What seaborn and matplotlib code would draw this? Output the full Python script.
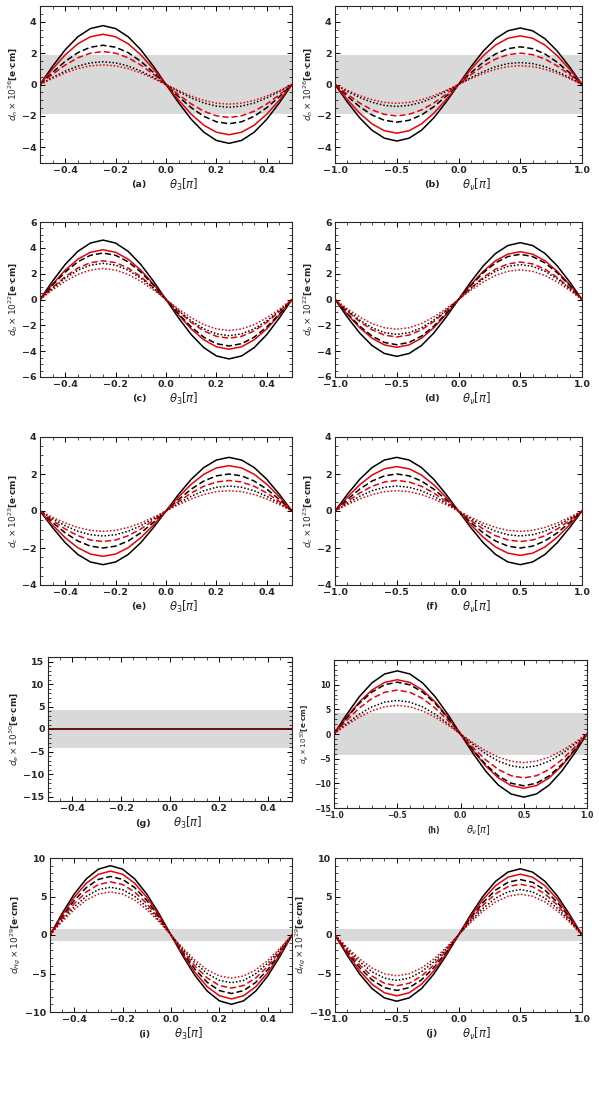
import numpy as np
import pandas as pd
import seaborn as sns
import matplotlib.pyplot as plt
from matplotlib.ticker import AutoMinorLocator

sns.set_style("ticks")
plt.rcParams['font.family'] = ['DejaVu Sans']
plt.rcParams['mathtext.fontset'] = 'dejavusans'
plt.rcParams['xtick.minor.visible'] = True
plt.rcParams['ytick.minor.visible'] = True

# one period profile (21 samples, left end to right end)
shape = [0.0, -0.31, -0.59, -0.81, -0.95, -1.0, -0.95, -0.81, -0.59, -0.31, 0.0,
         0.31, 0.59, 0.81, 0.95, 1.0, 0.95, 0.81, 0.59, 0.31, 0.0]
x_theta3 = [-0.5 + 0.05 * i for i in range(21)]
x_thetanu = [-1.0 + 0.1 * i for i in range(21)]

# peak heights: black solid, red solid, black dashed, red dashed, black dotted, red dotted
amp_a = [-3.75, -3.2, -2.5, -2.1, -1.45, -1.25]
amp_b = [3.6, 3.1, 2.4, 2.0, 1.4, 1.2]
amp_c = [-4.6, -3.85, -3.6, -3.0, -2.8, -2.4]
amp_d = [4.4, 3.7, 3.5, 2.9, 2.7, 2.3]
amp_e = [2.9, 2.45, 2.0, 1.65, 1.35, 1.1]
amp_f = [-2.9, -2.4, -2.0, -1.65, -1.35, -1.1]
amp_g = [0, 0, 0, 0, 0, 0]
amp_h = [-12.8, -11.0, -10.5, -8.9, -6.8, -5.8]
amp_i = [-9.0, -8.3, -7.6, -6.9, -6.2, -5.6]
amp_j = [8.6, 7.9, 7.2, 6.6, 5.9, 5.3]

curve_names = ['k-', 'r-', 'k--', 'r--', 'k:', 'r:']
colors = {'k-': 'black', 'r-': '#e8000b', 'k--': 'black', 'r--': '#e8000b', 'k:': 'black', 'r:': '#e8000b'}
dashes = {'k-': '', 'r-': '', 'k--': (4, 2), 'r--': (4, 2), 'k:': (1, 1.3), 'r:': (1, 1.3)}

W, H = 599, 1108
panels = [
    # tag, x, amps, ylabel, ylim, yticks, band, xlabel, box(px: x0,y0,x1,y1)
    ('(a)', x_theta3, amp_a, r'$d_n\times10^{26}$[e$\cdot$cm]', (-5, 5), [-4, -2, 0, 2, 4], 1.85, r'$\theta_3[\pi]$', (40, 6, 292, 163)),
    ('(b)', x_thetanu, amp_b, r'$d_n\times10^{26}$[e$\cdot$cm]', (-5, 5), [-4, -2, 0, 2, 4], 1.85, r'$\theta_\nu[\pi]$', (335, 6, 582, 163)),
    ('(c)', x_theta3, amp_c, r'$d_b\times10^{22}$[e$\cdot$cm]', (-6, 6), [-6, -4, -2, 0, 2, 4, 6], None, r'$\theta_3[\pi]$', (40, 222, 292, 377)),
    ('(d)', x_thetanu, amp_d, r'$d_b\times10^{22}$[e$\cdot$cm]', (-6, 6), [-6, -4, -2, 0, 2, 4, 6], None, r'$\theta_\nu[\pi]$', (335, 222, 582, 377)),
    ('(e)', x_theta3, amp_e, r'$d_c\times10^{23}$[e$\cdot$cm]', (-4, 4), [-4, -2, 0, 2, 4], None, r'$\theta_3[\pi]$', (40, 437, 292, 585)),
    ('(f)', x_thetanu, amp_f, r'$d_c\times10^{23}$[e$\cdot$cm]', (-4, 4), [-4, -2, 0, 2, 4], None, r'$\theta_\nu[\pi]$', (335, 437, 582, 585)),
    ('(g)', x_theta3, amp_g, r'$d_e\times10^{30}$[e$\cdot$cm]', (-16, 16), [-15, -10, -5, 0, 5, 10, 15], 4.2, r'$\theta_3[\pi]$', (48, 657, 292, 801)),
    ('(h)', x_thetanu, amp_h, r'$d_e\times10^{30}$[e$\cdot$cm]', (-15, 15), [-15, -10, -5, 0, 5, 10], 4.2, r'$\theta_\nu[\pi]$', (334, 660, 587, 808)),
    ('(i)', x_theta3, amp_i, r'$d_{Hg}\times10^{29}$[e$\cdot$cm]', (-10, 10), [-10, -5, 0, 5, 10], 0.8, r'$\theta_3[\pi]$', (50, 858, 292, 1012)),
    ('(j)', x_thetanu, amp_j, r'$d_{Hg}\times10^{29}$[e$\cdot$cm]', (-10, 10), [-10, -5, 0, 5, 10], 0.8, r'$\theta_\nu[\pi]$', (335, 858, 582, 1012)),
]

fig = plt.figure(figsize=(W / 100, H / 100), dpi=100)
for tag, xs, amps, ylab, ylim, yticks, band, xlab, box in panels:
    x0, y0, x1, y1 = box
    ax = fig.add_axes([x0 / W, 1 - y1 / H, (x1 - x0) / W, (y1 - y0) / H])
    small = tag == '(h)'
    fs = 5.5 if small else 6.8
    if band:
        ax.axhspan(-band, band, color='#d9d9d9', lw=0, zorder=0)
    rows = []
    for name, a in zip(curve_names, amps):
        for xv, s in zip(xs, shape):
            rows.append({'x': xv, 'y': a * s, 'curve': name})
    df = pd.DataFrame(rows)
    if tag == '(g)':
        sns.lineplot(data=df[df.curve == 'k-'], x='x', y='y', color='#5a0000', lw=1.3, ax=ax)
    else:
        sns.lineplot(data=df, x='x', y='y', hue='curve', style='curve', palette=colors,
                     dashes=dashes, lw=1.1, legend=False, ax=ax)
    ax.set_xlim(xs[0], xs[-1])
    ax.set_ylim(*ylim)
    ax.set_yticks(yticks)
    if xs[0] == -0.5:
        ax.set_xticks([-0.4, -0.2, 0.0, 0.2, 0.4])
    else:
        ax.set_xticks([-1.0, -0.5, 0.0, 0.5, 1.0])
    ax.xaxis.set_minor_locator(AutoMinorLocator(4 if xs[0] == -0.5 else 5))
    ax.yaxis.set_minor_locator(AutoMinorLocator(5 if ylim[1] >= 10 else 4))
    ax.tick_params(which='both', direction='in', top=True, right=True, labelsize=fs,
                   width=0.7, color='black', pad=2.5)
    ax.tick_params(which='major', length=3.5)
    ax.tick_params(which='minor', length=2, width=0.5)
    for lab in ax.get_xticklabels() + ax.get_yticklabels():
        lab.set_fontweight('bold')
    ax.set_xlabel('')
    ax.set_ylabel(ylab, fontsize=fs - 0.3, fontweight='bold', labelpad=1.5)
    for sp in ax.spines.values():
        sp.set_linewidth(0.8)
    cx = (x0 + x1) / 2 / W
    ly = 1 - (y1 + 22) / H
    fig.text(cx - 0.045, ly, tag, fontsize=fs, fontweight='bold', ha='center', va='center')
    fig.text(cx + 0.03, ly, xlab, fontsize=fs + 1.5, ha='center', va='center')

fig.savefig('out.png', dpi=100)
